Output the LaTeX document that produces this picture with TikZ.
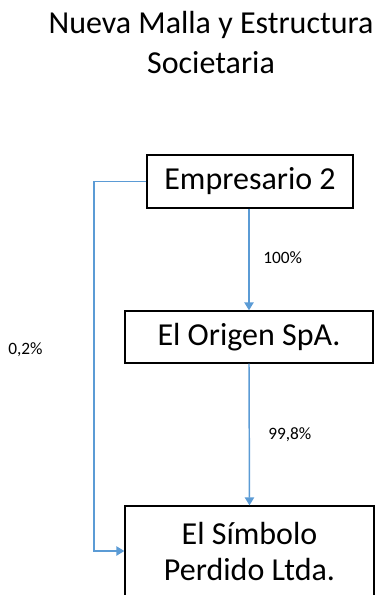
\documentclass[tikz,border=0pt]{standalone}
\usepackage{fontspec}
\setmainfont{Carlito}
\usepackage{tikz}
\usepackage{xcolor}
\usetikzlibrary{arrows.meta,positioning}
\definecolor{link}{RGB}{91, 155, 213}
\tikzstyle{arrow} = [
    line width=1.1pt,
    -{Triangle[width=7pt,length=6pt]},
    draw=link
]
\tikzstyle{entity} = [
    rectangle,
    draw=black,
    line width=1pt,
    inner sep=0pt,
    align=center,
    text centered,
    font=\fontsize{24}{27}\selectfont
]
\tikzstyle{share} = [
    inner sep=0pt,
    anchor=west,
    font=\fontsize{13}{15}\selectfont
]

\begin{document}
\begin{tikzpicture}[x=0.75pt,y=-0.75pt]
        \clip (0,0) rectangle (378,595);
        \useasboundingbox (0,0) rectangle (378,595);

        % Title
        \node[font=\fontsize{24}{30}\selectfont, align=center, anchor=north, inner sep=0pt] (title) at (211,11)
            {Nueva Malla y Estructura\\Societaria};

        % Companies
        \node[entity, minimum width=154.5pt, minimum height=39.75pt] (emp) at (250,181.5) {Empresario 2};
        \node[entity, minimum width=186pt, minimum height=39pt] (org) at (249,337) {El Origen SpA.};
        \node[entity, minimum width=186.75pt, minimum height=69pt] (sim) at (249.5,552) {El Símbolo\\Perdido Ltda.};

        % Ownership
        \draw[arrow] (emp.south -| org.north) -- (org.north);
        \draw[arrow] (org.south) -- (sim.north);
        \coordinate (corner) at (94,551);
        \draw[arrow] (emp.west) -| (corner) -- (corner -| sim.west);

        % Percentages
        \node[share] (p100) at (263,258) {100\%};
        \node[share] (p998) at (268,435) {99,8\%};
        \node[share] (p02) at (8,350) {0,2\%};
    \end{tikzpicture}
\end{document}
